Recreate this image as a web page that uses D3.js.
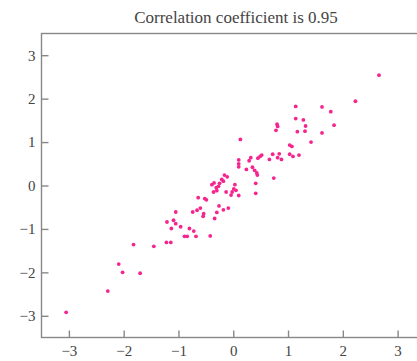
<!DOCTYPE html>
<html>
<head>
<meta charset="utf-8">
<script src="https://cdn.jsdelivr.net/npm/d3@7"></script>
<style>
  html, body { margin: 0; padding: 0; background: #fff; }
  svg { display: block; }
  .tick text { font-family: "Liberation Serif", "DejaVu Serif", serif; font-size: 15px; fill: #444; }
</style>
</head>
<body>
<svg id="chart" width="417" height="361"></svg>
<script>
// Sample pairs (x, y) for the scatter
const xValues = [
  -3.05, -2.29, -2.09, -2.02, -1.82, -1.70, -1.45, -1.22, -1.14, -1.21,
  -1.13, -1.09, -1.05, -0.96, -1.05, -0.89, -0.84, -0.80, -0.72, -0.68,
  -0.74, -0.66, -0.60, -0.55, -0.54, -0.64, -0.52, -0.49, -0.42, -0.34,
  -0.30, -0.26, -0.18, -0.09, -0.39, -0.36, -0.35, -0.31, -0.27, -0.25,
  -0.21, -0.18, -0.16, -0.11, -0.13, -0.30, 0.03, 0.01, 0.05, -0.02,
  -0.04, 0.10, 0.10, 0.10, 0.10, 0.13, 0.24, 0.29, 0.32, 0.35,
  0.39, 0.43, 0.44, 0.45, 0.49, 0.52, 0.66, 0.72, 0.81, 0.88,
  0.84, 0.74, 0.41, 0.41, 0.80, 0.81, 0.78, 1.03, 1.07, 1.03,
  1.09, 1.20, 1.14, 1.14, 1.28, 1.32, 1.31, 1.17, 1.42, 1.62,
  1.78, 1.84, 1.62, 2.23, 2.66
];
const yValues = [
  -2.92, -2.43, -1.81, -2.00, -1.36, -2.02, -1.40, -1.31, -1.31, -0.84,
  -0.99, -0.80, -0.88, -0.95, -0.61, -1.17, -1.17, -0.99, -1.05, -1.17,
  -0.61, -0.57, -0.52, -0.71, -0.65, -0.28, -0.30, -0.33, -1.16, -0.76,
  -0.62, -0.47, -0.56, -0.52, 0.02, -0.15, 0.06, -0.05, -0.02, 0.05,
  0.14, 0.10, 0.24, 0.20, -0.15, -0.12, 0.02, -0.08, -0.11, -0.15,
  -0.22, -0.23, 0.59, 0.50, 0.43, 1.06, 0.37, 0.57, 0.64, 0.42,
  0.35, 0.29, 0.24, 0.63, 0.67, 0.70, 0.60, 0.72, 0.64, 0.60,
  0.73, 0.17, 0.05, -0.18, 1.41, 1.36, 1.27, 0.93, 0.90, 0.72,
  0.67, 0.70, 1.82, 1.54, 1.51, 1.37, 1.25, 1.24, 1.00, 1.81,
  1.70, 1.39, 1.21, 1.94, 2.54
];
const tickValues = [-3, -2, -1, 0, 1, 2, 3];
const titleText = "Correlation coefficient is 0.95";

const svg = d3.select("#chart");
const plotLeft = 41.5, plotRight = 425, plotTop = 33.5, plotBottom = 337.5;

const x = d3.scaleLinear().domain([-3.5, 3.5]).range([plotLeft, plotRight]);
const y = d3.scaleLinear().domain([-3.5, 3.5]).range([plotBottom, plotTop]);
const fmt = d3.format("d");

// Frame around the plotting area
svg.append("rect")
  .attr("x", plotLeft).attr("y", plotTop)
  .attr("width", plotRight - plotLeft).attr("height", plotBottom - plotTop)
  .attr("fill", "none").attr("stroke", "#888").attr("stroke-width", 1.4);

// Axes with inward-pointing ticks
const xAxis = svg.append("g")
  .attr("transform", `translate(0,${plotBottom})`)
  .call(d3.axisBottom(x).tickValues(tickValues).tickFormat(fmt)
    .tickSizeInner(-7).tickSizeOuter(0).tickPadding(8));
const yAxis = svg.append("g")
  .attr("transform", `translate(${plotLeft},0)`)
  .call(d3.axisLeft(y).tickValues(tickValues).tickFormat(fmt)
    .tickSizeInner(-7).tickSizeOuter(0).tickPadding(6));
[xAxis, yAxis].forEach(g => {
  g.select(".domain").remove();
  g.selectAll(".tick line").attr("stroke", "#888").attr("stroke-width", 1.4);
});

// Points
const points = xValues.map((v, i) => ({ x: v, y: yValues[i] }));
svg.append("g")
  .selectAll("circle")
  .data(points)
  .join("circle")
  .attr("cx", d => x(d.x))
  .attr("cy", d => y(d.y))
  .attr("r", 1.9)
  .attr("fill", "#f5258f");

// Title
svg.append("text")
  .attr("x", 236).attr("y", 23)
  .attr("text-anchor", "middle")
  .attr("font-family", "'Liberation Serif', 'DejaVu Serif', serif")
  .attr("font-size", 17)
  .attr("fill", "#444")
  .text(titleText);
</script>
</body>
</html>
